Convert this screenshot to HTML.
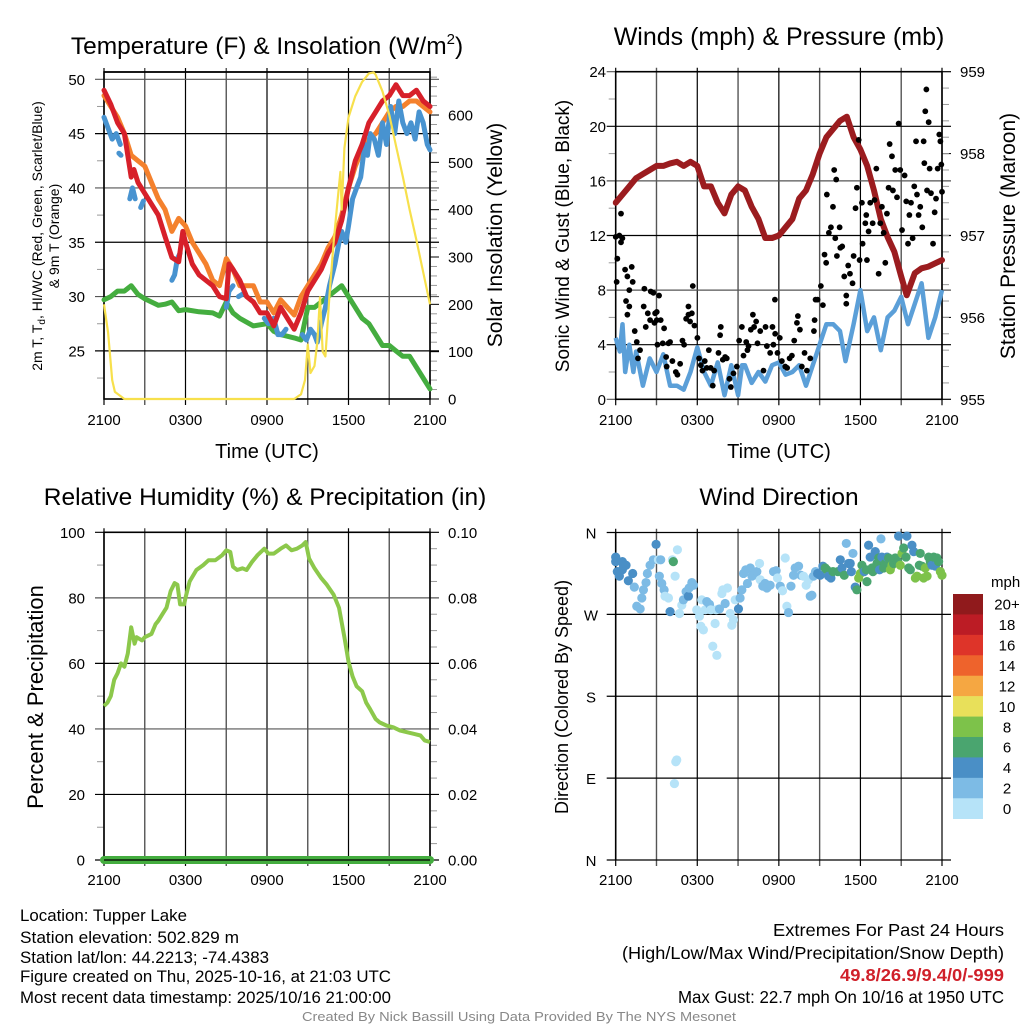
<!DOCTYPE html>
<html><head><meta charset="utf-8"><style>
html,body{margin:0;padding:0;background:#fff}
svg{display:block;font-family:"Liberation Sans",sans-serif}
</style></head><body>
<svg id="c" width="1024" height="1024" viewBox="0 0 1024 1024" xmlns="http://www.w3.org/2000/svg">
<rect x="0" y="0" width="1024" height="1024" fill="#fff"/>
<text x="267" y="54" font-size="24.5" text-anchor="middle">Temperature (F) &amp; Insolation (W/m<tspan font-size="15" dy="-10">2</tspan><tspan dy="10">)</tspan></text>
<text x="779" y="45" font-size="25" text-anchor="middle">Winds (mph) &amp; Pressure (mb)</text>
<text x="265" y="505" font-size="24.5" text-anchor="middle">Relative Humidity (%) &amp; Precipitation (in)</text>
<text x="779" y="505" font-size="24.5" text-anchor="middle">Wind Direction</text>

<text x="267" y="458" font-size="20" text-anchor="middle">Time (UTC)</text>
<text x="779" y="458" font-size="20" text-anchor="middle">Time (UTC)</text>

<text transform="translate(42,236) rotate(-90)" font-size="14" text-anchor="middle">2m T, T<tspan font-size="10" dy="3">d</tspan><tspan dy="-3">, HI/WC (Red, Green, Scarlet/Blue)</tspan></text>
<text transform="translate(59,236) rotate(-90)" font-size="14" text-anchor="middle">&amp; 9m T (Orange)</text>
<text transform="translate(502,235) rotate(-90)" font-size="21" text-anchor="middle">Solar Insolation (Yellow)</text>
<text transform="translate(569,236) rotate(-90)" font-size="19" text-anchor="middle">Sonic Wind &amp; Gust (Blue, Black)</text>
<text transform="translate(1015,236) rotate(-90)" font-size="21" text-anchor="middle">Station Pressure (Maroon)</text>
<text transform="translate(43,697) rotate(-90)" font-size="22" text-anchor="middle">Percent &amp; Precipitation</text>
<text transform="translate(568,697) rotate(-90)" font-size="18" text-anchor="middle">Direction (Colored By Speed)</text>

<g font-size="16.5">
<text x="20" y="921" textLength="167" lengthAdjust="spacingAndGlyphs">Location: Tupper Lake</text>
<text x="20" y="943" textLength="219" lengthAdjust="spacingAndGlyphs">Station elevation: 502.829 m</text>
<text x="20" y="963" textLength="249" lengthAdjust="spacingAndGlyphs">Station lat/lon: 44.2213; -74.4383</text>
<text x="20" y="982" textLength="371" lengthAdjust="spacingAndGlyphs">Figure created on Thu, 2025-10-16, at 21:03 UTC</text>
<text x="20" y="1003" textLength="371" lengthAdjust="spacingAndGlyphs">Most recent data timestamp: 2025/10/16 21:00:00</text>
</g>
<g font-size="17.5">
<text x="773" y="936" textLength="231" lengthAdjust="spacingAndGlyphs">Extremes For Past 24 Hours</text>
<text x="622" y="959" textLength="382" lengthAdjust="spacingAndGlyphs">(High/Low/Max Wind/Precipitation/Snow Depth)</text>
<text x="840" y="981" textLength="164" lengthAdjust="spacingAndGlyphs" fill="#d0202a" font-weight="bold">49.8/26.9/9.4/0/-999</text>
<text x="678" y="1003" textLength="326" lengthAdjust="spacingAndGlyphs">Max Gust: 22.7 mph On 10/16 at 1950 UTC</text>
</g>
<text x="519" y="1021" font-size="12.5" fill="#888" text-anchor="middle" textLength="434" lengthAdjust="spacingAndGlyphs">Created By Nick Bassill Using Data Provided By The NYS Mesonet</text>
<g id="plots"></g>
</svg>
<script>
// ---------- DATA ----------
const timeLabels = ["2100","0300","0900","1500","2100"];
const tempTicks = [25,30,35,40,45,50];
const solarTicks = [0,100,200,300,400,500,600];
const windTicks = [0,4,8,12,16,20,24];
const pressTicks = [955,956,957,958,959];
const rhTicks = [0,20,40,60,80,100];
const precipTicks = ["0.00","0.02","0.04","0.06","0.08","0.10"];
const dirTicks = ["N","E","S","W","N"];

const redHours = [0,0.5,1,1.5,2,2.2,2.5,3,3.5,4,4.5,5,5.5,5.8,6,6.5,7,7.5,8,8.5,9,9.2,9.5,10,10.5,11,11.5,12,12.5,13,13.5,14,14.5,15,15.5,16,16.5,17,17.5,18,18.5,19,19.5,20,20.5,21,21.5,22,22.5,23,23.5,24];
const redTemps = [49,47.7,46,45,41,41.7,40.5,39.5,38.5,37.5,35.5,33.6,33.2,36,35,33,32,31.5,31,30,29.8,33,32.5,31.5,30,29.5,28.5,28.5,27.3,29,28,27,28.5,30.5,31.5,32.5,34,35,37,40,42.5,44,46,47,48,48.5,49.5,48.5,48.5,49,48,47.5];

const orangeHours = [0,0.5,1,1.5,2,2.5,3,3.5,4,4.5,5,5.5,6,6.5,7,7.5,8,8.5,9,9.5,10,10.5,11,11.5,12,12.5,13,13.5,14,14.5,15,15.5,16,16.5,17,17.5,18,18.5,19,19.5,20,20.5,21,21.5,22,22.5,23,23.5,24];
const orangeTemps = [48.5,47.5,46.5,45,43,42.5,42,40.5,39,38,36,37.2,36.5,35,34,33,31.5,31,33.5,32.5,31,31,31,29.5,29.5,28.5,29.7,29,28.3,30,31,32,33,34.5,35.5,37.5,40,42,43.5,44.5,45,46,47,47.5,47.5,48,48,47.5,47];

const blueHours = [0,0.3,0.6,0.9,1.2,null,1.1,1.25,null,1.9,2.1,2.3,null,2.7,2.9,null,5.0,5.2,5.4,5.6,null,9.0,9.2,9.5,null,9.9,10.3,null,11.8,12.1,12.5,12.8,13.1,13.4,null,14.6,14.9,15.2,15.5,15.7,16,16.3,16.6,17,17.3,17.5,17.8,18,18.3,18.6,18.9,19.2,19.4,19.6,19.9,20.2,20.5,20.8,21.1,21.4,21.7,22,22.3,22.6,22.9,23.2,23.5,23.8,24];
const blueTemps = [46.5,45.5,44.5,45,44,null,43.2,43,null,39,40,39,null,38.2,38.8,null,31.5,32,33.5,34,null,29,30.5,31,null,30,30.3,null,28,27.5,28,26.5,26.5,27,null,26.5,26,27,26.5,25.8,27.5,29,31,33,35,36,35,36.5,39,40,41,44,43,45,44.5,43,46,44,47.5,45,48,46,45,46,44.5,47,46,44,43.5];

const greenHours = [0,0.5,1,1.5,2,2.5,3,3.5,4,4.5,5,5.5,6,7,8,8.5,9,9.5,10,11,12,12.5,13,14,14.5,15,15.5,16,16.5,17,17.5,18,18.5,19,19.5,20,20.5,21,21.5,22,22.5,23,23.5,24];
const greenTemps = [29.7,30,30.5,30.5,31,30.2,29.8,29.5,29.2,29.3,29.5,28.7,28.8,28.6,28.5,28.2,29.5,28.5,28,27.3,27.5,26.8,26.5,26.2,26,29,29,29.5,30,30.5,31,30,29,28,27.5,26.5,25.5,25.5,25,24.5,24.5,23.5,22.5,21.5];

const solarHours = [0,0.3,0.6,0.8,1.5,14,14.5,14.8,15,15.2,15.5,15.7,15.9,16.1,16.3,16.6,16.9,17.2,17.4,17.5,17.7,18,18.5,19,19.5,19.85,20,20.5,21,21.5,22,22.5,23,23.5,24];
const solarVals = [200,140,40,15,0,0,10,40,115,55,70,120,215,100,90,220,330,420,480,400,530,595,640,670,688,690,685,650,600,535,470,400,336,268,200];

const windHours = [0,0.3,0.5,0.7,1,1.3,1.5,2,2.5,3,3.5,4,4.5,5,5.5,6,6.5,7,7.5,8,8.5,9,9.3,9.5,10,10.5,11,11.5,12,12.5,13,13.5,14,14.5,15,15.5,16,16.5,16.9,17.5,18,18.5,19,19.5,20,20.5,21,21.5,22,22.5,23,23.5,24];
const windVals = [4.5,3.5,5.5,2,4,2,3.5,1,3,2,3.3,1,1,0.7,2,3.8,2,1,2.7,0.3,2.5,0.3,2.5,2.5,1.2,2,1.3,2.5,2.7,1.8,2,2.5,1,2.5,4,5.5,5.5,5,2.8,5.5,8,5,6,3.6,6,6.5,7.5,5.5,7,8.5,4.5,6,8];

const pressHours = [0,0.5,1,1.5,2,2.5,3,3.5,4,4.5,5,5.5,6,6.5,7,7.5,8,8.5,9,9.5,10,10.5,11,11.5,12,12.5,13,13.5,14,14.5,15,15.5,16,16.5,17,17.5,18,18.5,19,19.5,20,20.5,21,21.4,22,22.5,23,23.5,24];
const pressVals = [957.4,957.5,957.6,957.7,957.75,957.8,957.85,957.85,957.88,957.9,957.85,957.9,957.85,957.6,957.6,957.4,957.27,957.5,957.6,957.55,957.35,957.2,956.97,956.97,957.0,957.1,957.2,957.45,957.55,957.75,958.0,958.2,958.3,958.4,958.45,958.2,958.05,957.85,957.55,957.2,956.98,956.8,956.5,956.27,956.54,956.6,956.62,956.66,956.7];

const gustHours = [0,0.07,0.12,0.27,0.39,0.49,0.39,0.69,0.86,1.18,1.25,0.76,0.86,1.0,1.0,1.4,1.55,1.64,1.79,2.11,2.06,2.21,2.36,2.53,2.58,2.77,2.85,2.9,3.02,3.02,3.19,3.07,3.31,3.56,3.46,3.71,3.75,3.88,4.0,4.17,4.42,4.54,4.74,4.91,5.03,5.18,5.35,5.35,5.47,5.6,5.67,5.79,6.01,6.13,6.26,6.38,6.55,6.7,6.85,6.99,7.14,7.24,7.56,7.68,7.73,7.88,8.05,8.17,8.37,8.47,8.66,8.91,9.08,9.28,9.4,9.6,9.69,9.77,9.94,10.09,10.18,10.33,10.43,10.63,10.87,11.02,11.12,11.36,11.53,11.6,11.71,11.73,11.9,12.07,12.22,12.47,12.61,12.79,12.96,13.13,13.33,13.4,13.55,13.69,13.89,14.06,14.31,14.63,14.58,14.7,14.85,15.09,15.24,15.36,15.53,15.48,15.68,15.83,15.98,16.07,16.22,16.15,16.27,16.47,16.52,16.66,16.81,16.96,16.96,17.1,17.23,17.42,17.5,17.64,17.74,17.87,17.94,18.11,18.16,18.36,18.48,18.43,18.6,18.72,18.9,19.04,19.17,19.34,19.46,19.58,19.71,19.95,19.83,20.07,20.15,20.32,20.39,20.56,20.69,20.81,20.93,21.06,21.25,21.37,21.5,21.6,21.72,21.84,21.96,22.09,22.16,22.28,22.4,22.55,22.65,22.7,22.77,22.85,23.02,22.9,23.09,23.19,23.34,23.46,23.56,23.68,23.8,23.88,23.95,24];
const gustVals = [11.9,8.6,10.3,12,11.5,11.8,13.6,9.5,9,9.7,8.6,7.2,6.2,6.8,8,5,4.2,3,3.6,8.1,6.8,5.3,6.3,5.8,7.9,7.8,5.6,6.3,6.4,5.8,7.6,4,5.8,5.2,4.1,3.1,2.4,4.1,4.2,2.8,2,1.8,2.6,4.3,4,5.9,6.2,6.8,5.7,6.3,8.3,5.4,4.5,3,2.5,2.1,2.8,2.3,3.6,2.3,1,2.1,3.4,4.7,5.3,2.9,3.1,3,1.5,0.9,1.9,2.4,4.3,5.3,3.2,4.2,3.6,3.9,5.1,6.2,5.3,5.7,4.1,5,2.1,5.3,3.9,3.4,5.3,4,7.3,4.8,3.4,4.5,2.8,2.4,2.3,3,3.2,4.3,5.6,6.1,5.1,2.4,3.4,2.1,3,5.8,5,7.3,7.3,8.3,6.9,10.6,15,10,12.2,12.6,14.1,16.8,16.1,11.8,10.5,12.6,11.1,11.2,9,7.6,7,9.8,9.2,8.5,10.5,14,15.5,19,10.2,14.4,11.4,12.9,10.2,13.5,12.3,14.4,12.9,14.6,16.9,9.2,12.9,14.1,12.2,13.6,10,15.5,18.7,17.8,15.3,16.8,14.8,20.2,16.8,12.4,16.4,14.5,11.4,13.5,14.4,11.8,15.6,18.9,15,13.5,14.1,12.6,18.9,17.3,21.1,22.7,20.3,15.3,16.9,15.1,11.4,13.7,14.7,16.9,19.4,18.9,17.2,15.2];

const rhHours = [0,0.25,0.5,0.75,1,1.25,1.5,1.75,2,2.25,2.4,2.6,2.8,3,3.5,3.8,4,4.3,4.6,4.9,5.2,5.4,5.6,5.9,6,6.3,6.8,7.3,7.7,8.2,8.7,9,9.3,9.5,9.8,10.2,10.5,10.9,11.3,11.8,12.1,12.5,13,13.4,13.8,14.2,14.6,14.85,15.1,15.5,16,16.4,16.9,17.3,17.7,18,18.3,18.6,19,19.3,19.6,20,20.3,20.8,21.3,21.8,22.3,22.8,23.3,23.6,24];
const rhVals = [47,48,50,55,57,60,59,63,71,66,68,67.5,67,68,69,72,73,75,77,82,84.5,84,78,78,80,85,88.5,90,91.5,91.5,93,94.5,94,89.5,88.5,89,88.5,91,93,95,93.5,93.5,95,96,94.5,95,96,97,92,89,86,84,81,77,68,60.5,56,53,51.5,48,46,43,42,41,40.5,39.5,39,38.5,38,36.5,36];
const precipHours = [0,24];
const precipVals = [0,0];

const dirHours = [0,0,0.12,0.27,0.49,0.49,0.57,0.76,0.93,1.25,1.37,1.55,1.8,1.92,2.04,2.23,2.33,2.53,2.77,2.97,3.14,3.31,3.21,3.39,3.56,3.63,3.88,4.0,4.17,4.37,4.54,4.69,4.86,4.98,5.18,5.35,5.4,5.6,5.72,5.96,6.16,6.26,6.45,6.33,6.58,6.7,6.9,6.99,7.14,7.31,7.44,7.39,7.63,7.81,7.88,8.05,8.22,8.42,8.54,8.66,8.79,9.03,9.15,9.28,9.4,9.57,9.69,9.9,10.02,10.14,10.38,10.58,10.63,10.82,10.99,11.12,11.36,11.61,11.8,11.9,12.1,12.27,12.47,12.59,12.71,12.89,13.08,13.2,13.45,13.62,13.81,14.01,14.18,14.31,14.43,14.55,14.7,14.85,15.04,15.24,15.41,15.53,15.66,15.83,15.98,16.34,16.52,16.64,16.81,16.96,17.13,17.25,17.33,17.45,17.62,17.74,17.87,17.99,18.11,18.28,18.43,18.48,18.6,18.72,18.85,18.92,19.09,19.22,19.34,19.41,19.51,19.58,19.71,19.83,19.95,20.07,20.2,20.32,20.44,20.56,20.74,20.81,20.93,21.06,21.18,21.35,21.42,21.55,21.67,21.79,21.92,22.04,22.16,22.33,22.4,22.53,22.65,22.77,22.9,23.02,23.14,23.26,23.39,23.51,23.63,23.75,23.88,24,4.24,4.49,4.42,4.32];
const dirVals = [328,333,317,312,319,328,324,324,307,315,300,279,276,288,297,305,315,324,330,347,330,330,312,304,297,290,288,273,330,312,341,271,280,286,295,290,299,305,302,275,268,257,253,286,275,284,281,275,235,260,225,275,276,293,297,282,299,271,258,264,286,276,288,297,315,319,304,321,312,313,317,326,308,301,304,299,302,317,318,310,301,296,332,279,272,301,313,321,323,313,312,302,308,290,291,312,317,315,313,323,321,319,312,310,317,317,330,321,313,348,326,326,317,337,300,297,310,315,324,317,319,306,346,333,321,317,339,326,332,319,353,333,321,326,333,332,319,324,326,332,328,356,324,337,343,333,356,321,319,346,339,310,312,324,337,323,310,321,312,333,328,324,333,323,332,328,317,313,328,110,108,84,49];
const dirSpeeds = [4.5,4.5,4.5,4.5,4.5,4.5,4.5,4.5,4.5,4.5,3,3,3,3,3,3,3,3,3,4.5,1.5,3,3,3,3,1,1,4,1,1,1,1,1,3,3,4,3,3,3,1,1,1,1,1,1,3,3,1,1,1,1,1,3,1,1,3,1,1,1,1,1,4,3,3,3,3,3,3,3,3,3,1,1,3,3,3,3,3,3,1,3,1,1,1,3,3,3,3,3,3,1,1,1,3,3,3,3,4.5,4.5,4.5,7,7,4.5,4.5,7,7,4.5,4.5,7,3,4.5,4.5,4.5,3,4.5,6.5,8.5,8.5,6.5,4.5,6.5,6.5,4.5,4.5,6.5,6.5,4.5,6.5,6.5,4.5,3,4.5,6.5,6.5,4.5,6.5,8.5,8.5,6.5,6.5,6.5,4.5,8.5,8.5,6.5,6.5,4.5,6.5,6.5,4.5,4.5,8.5,8.5,6.5,6.5,6.5,8.5,8.5,8.5,6.5,6.5,4.5,6.5,4.5,6.5,6.5,8.5,8.5,6.5,1,1,1,1];

const legendLabels = ["20+","18","16","14","12","10","8","6","4","2","0"];
const legendColors = ["#901a1c","#bc1c25","#de3429","#ee632c","#f5a742","#e8e05a","#7dc24a","#4aa56f","#4a8fc6","#7dbbe5","#b6e3f8"];

// ---------- DRAW ----------
const NS = "http://www.w3.org/2000/svg";
const root = document.getElementById("plots");
function mk(tag, attrs, parent){
  const e = document.createElementNS(NS, tag);
  for (const k in attrs) e.setAttribute(k, attrs[k]);
  (parent||root).appendChild(e);
  return e;
}
function linePath(xs, ys, fx, fy){
  let d = "", pen = false;
  for (let i=0;i<xs.length;i++){
    if (xs[i]===null || ys[i]===null){ pen=false; continue; }
    d += (pen?"L":"M") + fx(xs[i]).toFixed(1) + "," + fy(ys[i]).toFixed(1);
    pen = true;
  }
  return d;
}
function speedColor(s){
  const idx = Math.min(10, Math.floor(s/2));
  return legendColors[10-idx];
}

function timeAxis(g, x0, x1, yTop, yBot, labelY){
  const fx = h => x0 + (x1-x0)*h/24;
  for (let h=0; h<=24; h+=3){
    const ln = mk("line",{x1:fx(h),x2:fx(h),y1:yTop-4,y2:yBot+6,stroke:(h%6===0)?"#000":"#555","stroke-width":(h%6===0)?1.2:1.4},g);
    
    
  }
  timeLabels.forEach((t,i)=>{
    const tx = mk("text",{x:fx(i*6),y:labelY,"font-size":15,"text-anchor":"middle"},g);
    tx.textContent = t;
    
    
  });
  return fx;
}
function hGrid(g, x0, x1, y, color){
  const ln = mk("line",{x1:x0-9,x2:x1+9,y1:y,y2:y,stroke:color||"#000","stroke-width":1.2},g);
  
  
}
function leftLabel(g, x, y, t){
  const tx = mk("text",{x:x,y:y+5.5,"font-size":15,"text-anchor":"end"},g);
  tx.textContent = t;
  
  
}
function rightLabel(g, x, y, t){
  const tx = mk("text",{x:x,y:y+5.5,"font-size":15,"text-anchor":"start"},g);
  tx.textContent = t;
  
  
}
function minor(g, x, y, dir){
  mk("line",{x1:x,x2:x+dir*7,y1:y,y2:y,stroke:"#999","stroke-width":1},g);
}
function frame(g,x0,x1,y0,y1){
  const f = mk("rect",{x:x0,y:y0,width:x1-x0,height:y1-y0,fill:"none",stroke:"#000","stroke-width":1.6},g);
  
  
}

// ---- Panel 1: Temperature ----
(function(){
  const g = mk("g",{});
  
  
  const X0=104,X1=430,Y0=72,Y1=399;
  const fy = T => 79.3 + (50-T)*10.864;
  const sy = s => 399 - s*0.4733;
  const fx = timeAxis(g,X0,X1,Y0,Y1,425);
  tempTicks.forEach(t=>{ hGrid(g,X0,X1,fy(t), t%10===0?"#555":"#000"); leftLabel(g,85,fy(t),String(t)); });
  for (let t=22.5;t<51;t+=5) minor(g,X0,fy(t),-1);
  solarTicks.forEach(s=>{ rightLabel(g,448,sy(s),String(s)); mk("line",{x1:X1,x2:X1+9,y1:sy(s),y2:sy(s),stroke:"#000"},g); });
  for (let s=20;s<690;s+=20) if (s%100) minor(g,X1,sy(s),1);
  mk("line",{x1:X0,x2:X1,y1:Y0,y2:Y0,stroke:"#000","stroke-width":1.5},g);
  frame(g,X0,X1,Y0,Y1);
  const cl = mk("clipPath",{id:"cp1"},g); mk("rect",{x:X0-3,y:Y0-3,width:X1-X0+6,height:Y1-Y0+6},cl);
  const s = mk("g",{"clip-path":"url(#cp1)"},g);
  const series = [
    [greenHours,greenTemps,"#44ad3f","dewpoint-line"],
    [orangeHours,orangeTemps,"#f4812d","temp-9m-line"],
    [blueHours,blueTemps,"#4893d0","windchill-line"],
    [redHours,redTemps,"#d7202a","temp-2m-line"]
  ];
  series.forEach(([xs,ys,c,n])=>{
    const p = mk("path",{d:linePath(xs,ys,fx,fy),fill:"none",stroke:c,"stroke-width":5,"stroke-linejoin":"round","stroke-linecap":"round"},s);
    
    
  });
  const sp = mk("path",{d:linePath(solarHours,solarVals,fx,sy),fill:"none",stroke:"#f7e04c","stroke-width":2.2,"stroke-linejoin":"round"},s);
  
  
})();

// ---- Panel 2: Winds ----
(function(){
  const g = mk("g",{});
  
  
  const X0=615.7,X1=942,Y0=71.7,Y1=399.3;
  const wy = w => 399.3 - w*13.65;
  const py = p => 399.3 - (p-955)*81.9;
  const fx = timeAxis(g,X0,X1,Y0,Y1,425);
  windTicks.forEach(w=>{ hGrid(g,X0,X1,wy(w), w%8===0?"#555":"#000"); leftLabel(g,606,wy(w),String(w)); });
  for (let w=2;w<24;w+=4) minor(g,X0,wy(w),-1);
  pressTicks.forEach(p=>{ rightLabel(g,960,py(p),String(p)); mk("line",{x1:X1,x2:X1+9,y1:py(p),y2:py(p),stroke:"#000"},g); });
  for (let p=955.2;p<959;p+=0.2) minor(g,X1,py(p),1);
  frame(g,X0,X1,Y0,Y1);
  const cl = mk("clipPath",{id:"cp2"},g); mk("rect",{x:X0-3,y:Y0-3,width:X1-X0+6,height:Y1-Y0+6},cl);
  const s = mk("g",{"clip-path":"url(#cp2)"},g);
  const wp = mk("path",{d:linePath(windHours,windVals,fx,wy),fill:"none",stroke:"#5b9fd8","stroke-width":4.5,"stroke-linejoin":"round"},s);
  
  
  const pp = mk("path",{d:linePath(pressHours,pressVals,fx,py),fill:"none",stroke:"#9b1c1f","stroke-width":6,"stroke-linejoin":"round","stroke-linecap":"round"},s);
  
  
  gustHours.forEach((h,i)=>{
    const c = mk("circle",{cx:fx(h),cy:wy(gustVals[i]),r:2.9,fill:"#000"},s);
    
    
  });
})();

// ---- Panel 3: Humidity ----
(function(){
  const g = mk("g",{});
  
  
  const X0=104,X1=430,Y0=532.3,Y1=860;
  const ry = r => 860 - r*3.277;
  const fx = timeAxis(g,X0,X1,Y0,Y1,885);
  rhTicks.forEach((r,i)=>{ hGrid(g,X0,X1,ry(r), r%40===0&&r>0?"#555":"#000"); leftLabel(g,85,ry(r),String(r)); rightLabel(g,448,ry(r),precipTicks[i]); });
  for (let r=10;r<100;r+=20) minor(g,X0,ry(r),-1);
  for (let r=5;r<100;r+=5) if (r%20) minor(g,X1,ry(r),1);
  frame(g,X0,X1,Y0,Y1);
  const pr = mk("path",{d:linePath(precipHours,precipVals,fx,v=>ry(v*1000)),fill:"none",stroke:"#44ad3f","stroke-width":8,"stroke-linecap":"round"},g);
  
  
  mk("line",{x1:X0,x2:X1,y1:Y1,y2:Y1,stroke:"#000","stroke-width":1.2},g);
  const rp = mk("path",{d:linePath(rhHours,rhVals,fx,ry),fill:"none",stroke:"#8cc84b","stroke-width":4,"stroke-linejoin":"round"},g);
  
  
})();

// ---- Panel 4: Direction ----
(function(){
  const g = mk("g",{});
  
  
  const X0=615.7,X1=942,Y0=532.7,Y1=860;
  const dy = d => 860 - d*0.9097;
  const fx = timeAxis(g,X0,X1,Y0,Y1,885);
  dirTicks.forEach((t,i)=>{
    const y = dy(i*90);
    hGrid(g,X0,X1,y,"#000");
    const tx = mk("text",{x:591,y:y+6,"font-size":15,"text-anchor":"middle"},g);
    tx.textContent = t;
    
    
  });
  mk("line",{x1:X0,x2:X0,y1:Y0,y2:Y1,stroke:"#000","stroke-width":1.6},g);
  dirHours.forEach((h,i)=>{
    const c = mk("circle",{cx:fx(h),cy:dy(dirVals[i]),r:4.6,fill:speedColor(dirSpeeds[i])},g);
    
    
  });
  const lg = mk("g",{},g);
  
  
  const t = mk("text",{x:991,y:587,"font-size":15},lg);
  t.textContent = "mph";
  
  
  const bh = (818.7-594)/11;
  legendLabels.forEach((l,i)=>{
    const r = mk("rect",{x:953,y:594+i*bh,width:30,height:bh+0.3,fill:legendColors[i]},lg);
    
    
    const tx = mk("text",{x:1007,y:594+i*bh+bh/2+5.5,"font-size":15,"text-anchor":"middle"},lg);
    tx.textContent = l;
    
    
  });
})();
</script>
</body></html>
